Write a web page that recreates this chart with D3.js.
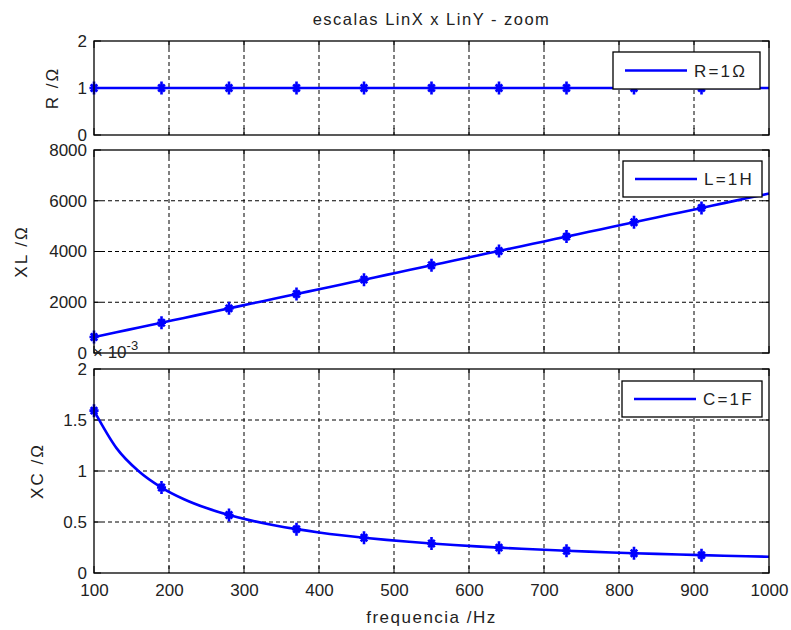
<!DOCTYPE html>
<html>
<head>
<meta charset="utf-8">
<script src="https://cdn.jsdelivr.net/npm/d3@7"></script>
<style>
  body { margin: 0; background: #fff; }
  svg { display: block; }
  text { font-family: "Liberation Sans", Arial, sans-serif; fill: #222; }
</style>
</head>
<body>
<svg id="chart" width="791" height="630"></svg>
<script>
// ---- data ----
const freq = [100,130,160,190,220,250,280,310,340,370,400,430,460,490,520,550,580,610,640,670,700,730,760,790,820,850,880,910,940,970,1000];
const rValues = [1,1,1,1,1,1,1,1,1,1,1,1,1,1,1,1,1,1,1,1,1,1,1,1,1,1,1,1,1,1,1];
const xlValues = [628,817,1005,1194,1382,1571,1759,1948,2136,2325,2513,2702,2890,3079,3267,3456,3644,3833,4021,4210,4398,4587,4775,4964,5152,5341,5529,5718,5906,6095,6283];
// XC in units of 1e-3 ohm
const xcValues = [1.5915,1.2242,0.9947,0.8376,0.7234,0.6366,0.5684,0.5134,0.4681,0.4301,0.3979,0.3701,0.3460,0.3248,0.3061,0.2894,0.2744,0.2609,0.2487,0.2375,0.2274,0.2180,0.2094,0.2015,0.1941,0.1872,0.1809,0.1749,0.1693,0.1641,0.1592];
const markerFreq = [100,190,280,370,460,550,640,730,820,910];
const xTicks = [100,200,300,400,500,600,700,800,900,1000];
const rTicks = [0,1,2];
const xlTicks = [0,2000,4000,6000,8000];
const xcTicks = [0,0.5,1,1.5,2];
const xcTickLabels = ["0","0.5","1","1.5","2"];
const titleText = "escalas LinX x LinY - zoom";
const xLabel = "frequencia /Hz";
const panels = [
  {values: rValues, ticks: rTicks, labels: ["0","1","2"], domain: [0,2], ylabel: "R /\u03A9", legend: "R=1\u03A9"},
  {values: xlValues, ticks: xlTicks, labels: ["0","2000","4000","6000","8000"], domain: [0,8000], ylabel: "XL /\u03A9", legend: "L=1H"},
  {values: xcValues, ticks: xcTicks, labels: xcTickLabels, domain: [0,2], ylabel: "XC /\u03A9", legend: "C=1F"}
];

// ---- layout ----
const svg = d3.select("#chart");
const left = 94, right = 769;
const boxes = [
  {top: 41, bottom: 135, ylabX: 52, legend: {x: 613, y: 52, w: 147, h: 37}},
  {top: 150, bottom: 353, ylabX: 21, legend: {x: 623, y: 161, w: 139, h: 36}},
  {top: 369, bottom: 573, ylabX: 37, legend: {x: 622, y: 381, w: 140, h: 36}}
];
const FS = 17;
const x = d3.scaleLinear().domain([100,1000]).range([left, right]);

svg.append("text").attr("x", (left+right)/2).attr("y", 24.5).attr("text-anchor","middle")
  .style("font-size","16.5px").style("letter-spacing","1.5px").text(titleText);

function asterisk(g, cx, cy, s) {
  const d = `M${cx},${cy-s}L${cx},${cy+s}M${cx-s*0.7},${cy}L${cx+s*0.7},${cy}` +
            `M${cx-s*0.5},${cy-s*0.55}L${cx+s*0.5},${cy+s*0.55}M${cx-s*0.5},${cy+s*0.55}L${cx+s*0.5},${cy-s*0.55}`;
  g.append("path").attr("d", d).attr("stroke","#0000ff").attr("stroke-width",2.6).attr("fill","none");
}

panels.forEach((p, i) => {
  const b = boxes[i];
  const y = d3.scaleLinear().domain(p.domain).range([b.bottom, b.top]);
  const g = svg.append("g");
  // grid
  xTicks.slice(1, -1).forEach(t => {
    g.append("line").attr("x1", x(t)).attr("x2", x(t)).attr("y1", b.top).attr("y2", b.bottom)
      .attr("stroke","#000").attr("stroke-width",1).attr("stroke-dasharray","4,3");
  });
  p.ticks.slice(1, -1).forEach(t => {
    g.append("line").attr("x1", left).attr("x2", right).attr("y1", y(t)).attr("y2", y(t))
      .attr("stroke","#000").attr("stroke-width",1).attr("stroke-dasharray","4,3");
  });
  // tick marks (inside, all four sides)
  const tl = 7;
  xTicks.forEach(t => {
    g.append("line").attr("x1", x(t)).attr("x2", x(t)).attr("y1", b.bottom).attr("y2", b.bottom - tl).attr("stroke","#000");
    g.append("line").attr("x1", x(t)).attr("x2", x(t)).attr("y1", b.top).attr("y2", b.top + tl).attr("stroke","#000");
  });
  p.ticks.forEach(t => {
    g.append("line").attr("x1", left).attr("x2", left + tl).attr("y1", y(t)).attr("y2", y(t)).attr("stroke","#000");
    g.append("line").attr("x1", right).attr("x2", right - tl).attr("y1", y(t)).attr("y2", y(t)).attr("stroke","#000");
  });
  // y axis labels via d3 axis
  const yAxis = d3.axisLeft(y).tickValues(p.ticks).tickFormat((d, k) => p.labels[k]).tickSize(0).tickPadding(7);
  const ya = g.append("g").attr("transform", `translate(${left},0)`).call(yAxis);
  ya.select(".domain").remove();
  ya.selectAll("text").style("font-size", FS + "px").style("font-family","Liberation Sans, Arial, sans-serif").attr("fill","#222");
  // line
  const line = d3.line().x((d, k) => x(freq[k])).y(d => y(d)).curve(d3.curveMonotoneX);
  g.append("path").datum(p.values).attr("d", line).attr("fill","none")
    .attr("stroke","#0000ff").attr("stroke-width",2.6).attr("stroke-linejoin","round");
  // markers
  markerFreq.forEach(f => {
    const k = freq.indexOf(f);
    asterisk(g, x(f), y(p.values[k]), 6.5);
  });
  // frame
  g.append("rect").attr("x", left).attr("y", b.top).attr("width", right-left).attr("height", b.bottom-b.top)
    .attr("fill","none").attr("stroke","#000").attr("stroke-width",1.3);
  // y label
  g.append("text").attr("transform", `translate(${b.ylabX},${(b.top+b.bottom)/2}) rotate(-90)`)
    .attr("text-anchor","middle").attr("dy","0.35em").style("font-size", "17px").style("letter-spacing","2px").text(p.ylabel);
  // legend
  const L = b.legend;
  g.append("rect").attr("x", L.x).attr("y", L.y).attr("width", L.w).attr("height", L.h)
    .attr("fill","#fff").attr("stroke","#000").attr("stroke-width",1.3);
  g.append("line").attr("x1", L.x + 12).attr("x2", L.x + 74).attr("y1", L.y + L.h/2).attr("y2", L.y + L.h/2)
    .attr("stroke","#0000ff").attr("stroke-width",2.6);
  g.append("text").attr("x", L.x + 81).attr("y", L.y + L.h/2).attr("dy","0.36em")
    .style("font-size", FS + "px").style("letter-spacing","2.2px").text(p.legend);
});

// x axis tick labels (bottom panel only)
const xa = svg.append("g").attr("transform", `translate(0,${boxes[2].bottom})`)
  .call(d3.axisBottom(x).tickValues(xTicks).tickFormat(d3.format("d")).tickSize(0).tickPadding(11));
xa.select(".domain").remove();
xa.selectAll("text").style("font-size", FS + "px").style("font-family","Liberation Sans, Arial, sans-serif").attr("fill","#222");

svg.append("text").attr("x", (left+right)/2).attr("y", 623).attr("text-anchor","middle")
  .style("font-size","17px").style("letter-spacing","1.5px").text(xLabel);

// exponent note
const ex = svg.append("text").attr("x", left - 1).attr("y", 358).style("font-size", "17px");
ex.append("tspan").text("\u00D7 10");
ex.append("tspan").attr("dy", -8).style("font-size","13px").text("-3");
</script>
</body>
</html>
